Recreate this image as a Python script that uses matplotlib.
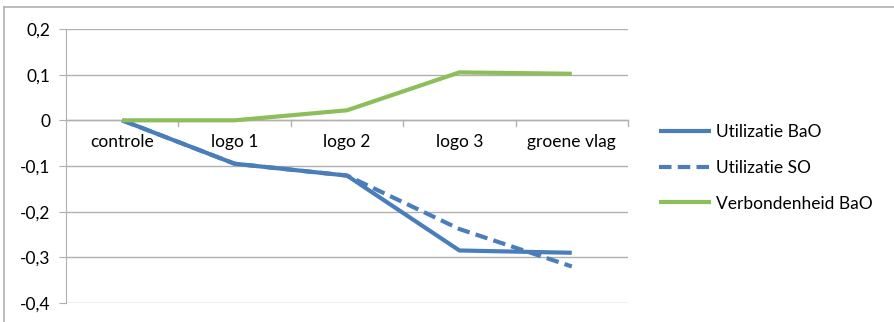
import matplotlib
matplotlib.use("Agg")
import matplotlib.pyplot as plt
from matplotlib.lines import Line2D
from matplotlib.ticker import FuncFormatter, FixedLocator

categories = ["controle", "logo 1", "logo 2", "logo 3", "groene vlag"]
util_bao = [0.0, -0.095, -0.121, -0.285, -0.290]
util_so = [0.0, -0.095, -0.121, -0.238, -0.320]
verbond_bao = [0.0, 0.0, 0.022, 0.105, 0.102]
yticks = [-0.4, -0.3, -0.2, -0.1, 0.0, 0.1, 0.2]

plt.rcParams['font.family'] = ['Lato', 'DejaVu Sans']
fs = 12.5

fig = plt.figure(figsize=(8.94, 3.22), dpi=100)
ax = fig.add_axes([66/894, 1 - 303/322, (628-66)/894, (303-29)/322])

blue = "#4a7ebb"
green = "#8cbe5a"
x = list(range(len(categories)))
ax.plot(x, util_bao, color=blue, lw=3, label="Utilizatie BaO", solid_capstyle="butt")
ax.plot(x, util_so, color=blue, lw=3, ls=(0, (3, 1.5)), label="Utilizatie SO")
ax.plot(x, verbond_bao, color=green, lw=3, label="Verbondenheid BaO", solid_capstyle="butt")

ax.set_xlim(-0.5, len(categories) - 0.5)
ax.set_ylim(-0.4, 0.2)
ax.yaxis.set_major_locator(FixedLocator(yticks))
ax.yaxis.set_major_formatter(FuncFormatter(lambda v, p: ("%.1f" % v).replace(".", ",") if abs(v) > 1e-9 else "0"))
ax.grid(axis="y", color="#b0b0b0", lw=1)
ax.set_axisbelow(True)
for s in ["top", "right", "bottom"]:
    ax.spines[s].set_visible(False)
ax.spines["left"].set_color("#b0b0b0")
ax.tick_params(axis="y", length=5, color="#b0b0b0", labelsize=fs, pad=6)
ax.set_xticks([])

# category axis at zero
ax.axhline(0, color="#b0b0b0", lw=1, zorder=1)
for b in range(1, len(categories) + 1):
    ax.plot([b - 0.5, b - 0.5], [0, -0.012], color="#b0b0b0", lw=1, zorder=1, clip_on=False)
for i, c in enumerate(categories):
    ax.text(i, -0.03, c, ha="center", va="top", fontsize=fs, color="black")

leg = fig.legend(loc="upper left", bbox_to_anchor=(643/894, 1 - 108/322), frameon=False,
                 fontsize=fs, handlelength=3.0, labelspacing=1.15, handletextpad=0.3)

fig.add_artist(Line2D([4/894, 1], [1 - 7/322, 1 - 7/322], color="#b0b0b0", lw=1.2, transform=fig.transFigure))
fig.add_artist(Line2D([4/894, 4/894], [0, 1 - 7/322], color="#b0b0b0", lw=1.2, transform=fig.transFigure))

fig.savefig("out.png", dpi=100)
